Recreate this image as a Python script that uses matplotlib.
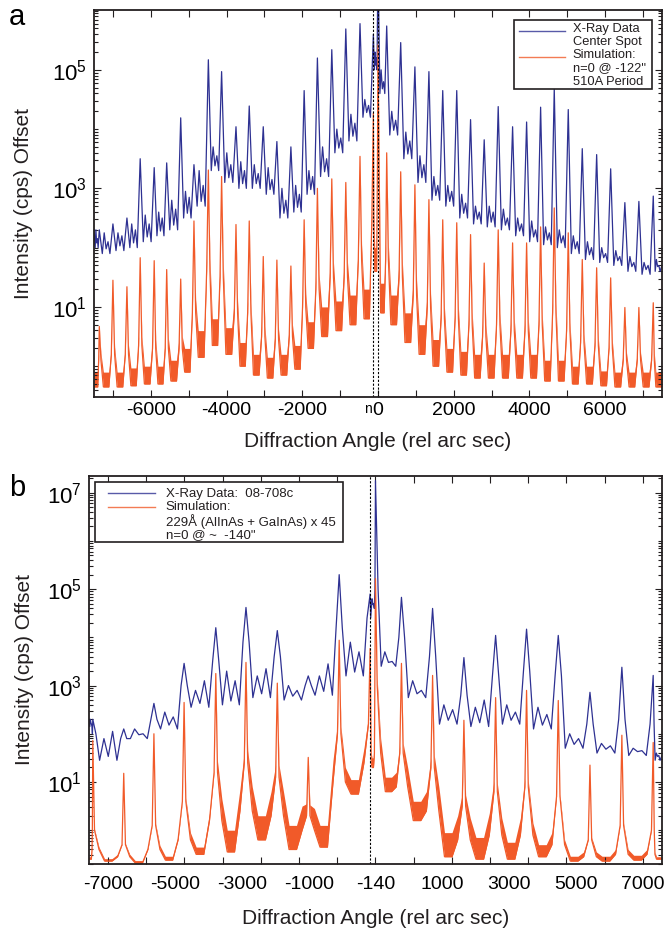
import matplotlib
matplotlib.use("Agg")
import matplotlib.pyplot as plt
import numpy as np
from matplotlib.patches import Rectangle
from matplotlib.ticker import FixedLocator, LogLocator, MultipleLocator, NullFormatter

plt.rcParams["font.family"] = ["Liberation Sans", "DejaVu Sans"]
plt.rcParams["mathtext.fontset"] = "custom"
plt.rcParams["mathtext.rm"] = "Liberation Sans"
plt.rcParams["mathtext.default"] = "regular"
plt.rcParams["axes.unicode_minus"] = False

BLUE = "#2e3192"
ORANGE = "#f15a29"
INK = "#231f20"
XLIM = (-7500, 7500)

# ---- panel a: 510 A period, n=0 at -122" (intensities stored as log10 cps) ----
A_PEAK_X = [-7360, -7000, -6630, -6280, -5910, -5580, -5210, -4860, -4480, -4130,
            -3750, -3400, -3030, -2670, -2300, -1950, -1600, -1220, -850, -475,
            -122, 0, 230, 600, 975, 1345, 1710, 2080, 2445, 2805,
            3175, 3555, 3925, 4295, 4655, 5025, 5395, 5775, 6145, 6520,
            6890, 7270]
A_SIM_PEAK = [0.67, 1.45, 1.34, 1.83, 1.78, 1.63, 1.47, 2.45, 3.31, 3.2,
              2.39, 2.45, 1.85, 1.79, 1.69, 2.47, 3.0, 3.16, 3.1, 3.54,
              4.27, 5.42, 3.6, 3.28, 3.06, 2.81, 2.47, 2.42, 2.22, 1.74,
              2.3, 2.08, 2.08, 2.35, 2.67, 2.25, 1.8, 1.66, 1.49, 0.99,
              0.99, 1.07]
A_SIM_FOOT = [0.1, 0.2, 0.2, 0.35, 0.3, 0.3, 0.3, 0.9, 1.6, 1.5,
              0.9, 0.9, 0.5, 0.45, 0.5, 1.0, 1.3, 1.5, 1.5, 1.8,
              2.4, 3.4, 1.8, 1.5, 1.2, 1.0, 0.8, 0.8, 0.7, 0.5,
              0.7, 0.6, 0.6, 0.7, 0.9, 0.6, 0.4, 0.35, 0.3, 0.1,
              0.1, 0.1]
# one value per gap between peaks (plot edges included)
A_SIM_FLOOR = [-0.35, -0.35, -0.35, -0.33, -0.3, -0.3, -0.25, -0.1, 0.15, 0.35,
               0.2, 0.0, -0.15, -0.2, -0.15, -0.05, 0.3, 0.5, 0.6, 0.7,
               0.8, 1.6, 0.9, 0.7, 0.4, 0.2, 0.0, -0.1, -0.15, -0.2,
               -0.2, -0.2, -0.2, -0.2, -0.25, -0.25, -0.3, -0.3, -0.33, -0.35,
               -0.35, -0.35, -0.35]
A_SIM_BAND = [0.25, 0.25, 0.25, 0.3, 0.3, 0.3, 0.35, 0.4, 0.45, 0.45,
              0.45, 0.4, 0.35, 0.35, 0.35, 0.4, 0.45, 0.5, 0.5, 0.5,
              0.5, 0.4, 0.5, 0.5, 0.5, 0.5, 0.45, 0.4, 0.4, 0.4,
              0.4, 0.4, 0.4, 0.4, 0.35, 0.35, 0.3, 0.3, 0.25, 0.25,
              0.25, 0.25, 0.25]
A_DATA_PEAK = [2.3, 2.4, 2.5, 3.5, 3.35, 3.43, 4.19, 3.4, 5.17, 4.97,
               4.04, 4.39, 4.04, 3.79, 3.7, 4.65, 5.2, 5.34, 5.69, 5.78,
               5.6, 6.8, 5.74, 5.46, 5.05, 4.97, 4.65, 4.65, 4.16, 3.82,
               4.38, 4.04, 4.12, 4.37, 4.69, 4.33, 3.67, 3.57, 3.33, 2.76,
               2.78, 2.87]
A_DATA_LO = [2.0, 1.9, 1.95, 2.0, 2.1, 2.2, 2.3, 2.5, 2.7, 3.3,
             3.1, 3.0, 3.0, 2.9, 2.5, 2.6, 2.9, 3.2, 3.6, 3.8,
             4.2, 5.0, 4.6, 3.9, 3.5, 3.1, 2.8, 2.7, 2.5, 2.4,
             2.35, 2.3, 2.2, 2.1, 2.05, 2.0, 1.9, 1.8, 1.75, 1.7,
             1.6, 1.55, 1.6]
A_DATA_BUMP = [2.3, 2.25, 2.25, 2.4, 2.55, 2.6, 2.8, 2.95, 3.3, 3.7,
               3.6, 3.45, 3.4, 3.35, 3.0, 3.05, 3.3, 3.7, 4.0, 4.25,
               4.5, 5.3, 5.0, 4.3, 3.95, 3.55, 3.2, 3.05, 2.9, 2.7,
               2.7, 2.65, 2.5, 2.45, 2.35, 2.3, 2.2, 2.1, 2.0, 1.95,
               1.85, 1.75, 1.8]
A_DATA_BUMP2 = [2.15, 2.1, 2.2, 2.3, 2.4, 2.5, 2.65, 2.85, 3.05, 3.55,
                3.4, 3.3, 3.25, 3.15, 2.8, 2.9, 3.2, 3.5, 3.85, 4.1,
                4.4, 5.2, 4.8, 4.15, 3.8, 3.4, 3.05, 2.95, 2.75, 2.6,
                2.6, 2.5, 2.4, 2.3, 2.25, 2.2, 2.1, 2.0, 1.9, 1.85,
                1.75, 1.7, 1.7]
A_MARKERS = [-122, 0]

# ---- panel b: 229 A (AlInAs + GaInAs) x 45, n=0 at ~-140" ----
B_PEAK_X = [-7400, -6590, -5800, -5010, -4180, -3390, -2570, -1760, -950, -140,
            0, 680, 1495, 2315, 3145, 3955, 4785, 5615, 6450, 7270]
B_SIM_PEAK = [1.86, 1.18, 2.0, 2.65, 3.25, 3.48, 3.05, 1.51, 3.94, 3.77,
              5.22, 3.46, 3.21, 2.28, 2.75, 2.9, 2.69, 1.35, 1.97, 1.82]
B_SIM_FOOT = [0.0, -0.3, 0.1, 0.6, 1.2, 1.4, 1.1, 0.3, 2.0, 2.2,
              3.0, 1.6, 1.3, 0.5, 0.8, 0.9, 0.7, -0.2, 0.1, 0.0]
B_SIM_SHOULDER = [-0.4, -0.55, -0.4, -0.2, 0.2, 0.4, 0.3, 0.0, 1.0, 1.4,
                  1.6, 0.9, 0.4, -0.2, -0.1, -0.1, -0.3, -0.55, -0.5, -0.5]
B_SIM_FLOOR = [-0.6, -0.64, -0.68, -0.62, -0.5, -0.45, -0.2, -0.4, -0.35, 0.75,
               1.3, 0.8, 0.2, -0.55, -0.6, -0.6, -0.55, -0.64, -0.64, -0.62,
               -0.6]
B_SIM_BAND = [0.05, 0.05, 0.05, 0.08, 0.15, 0.45, 0.5, 0.5, 0.45, 0.3,
              0.2, 0.3, 0.4, 0.5, 0.45, 0.35, 0.25, 0.1, 0.1, 0.1,
              0.05]
B_DATA_PEAK = [2.3, 2.1, 2.63, 3.46, 4.2, 4.62, 4.14, 3.2, 5.3, 4.9,
               7.25, 4.83, 4.6, 3.58, 4.04, 4.17, 4.04, 2.86, 3.38, 3.21]
B_DATA_SHOULDER = [2.0, 1.9, 2.3, 3.0, 3.5, 3.9, 3.6, 3.0, 4.2, 4.4,
                   5.0, 4.0, 3.6, 2.8, 3.2, 3.3, 3.2, 2.2, 2.3, 2.2]
B_DATA_LO = [2.15, 1.45, 1.9, 2.1, 2.55, 2.6, 2.75, 2.7, 2.8, 3.2,
             4.6, 3.4, 2.75, 2.2, 2.15, 2.2, 2.1, 1.7, 1.6, 1.55,
             1.45]
B_DATA_BUMP = [2.3, 1.9, 2.1, 2.45, 2.9, 3.3, 3.2, 3.0, 3.2, 3.9,
               4.8, 3.7, 3.1, 2.6, 2.55, 2.6, 2.55, 2.0, 1.8, 1.7,
               1.6]
B_DATA_BUMP2 = [2.2, 2.05, 2.0, 2.35, 3.1, 3.1, 3.35, 2.9, 3.45, 3.7,
                4.7, 3.5, 2.9, 2.5, 2.7, 2.45, 2.4, 1.9, 1.75, 1.65,
                1.55]
B_MARKERS = [-140]
B_XTICK_LABELS = ["-7000", "-5000", "-3000", "-1000", "-140",
                  "1000", "3000", "5000", "7000"]


def sim_vertices(peak_x, peak, foot, floor, band, shoulder=None):
    """Peaks as needles with a short skirt, sitting on a fringe band."""
    edges = [XLIM[0], *peak_x, XLIM[1]]
    pts = [(XLIM[0], floor[0], band[0]), (XLIM[1], floor[-1], band[-1])]
    for i in range(len(edges) - 1):
        a, b = edges[i], edges[i + 1]
        g = b - a
        if shoulder is None:
            for f in (0.3, 0.5, 0.7):
                pts.append((a + f * g, floor[i], band[i]))
        else:
            for f in (0.38, 0.5, 0.62):
                pts.append((a + f * g, floor[i], band[i]))
            if i > 0:
                pts.append((a + 0.2 * g, shoulder[i - 1], band[i]))
            if i < len(peak_x):
                pts.append((b - 0.2 * g, shoulder[i], band[i]))
    for k, p in enumerate(peak_x):
        gl = p - edges[k]
        gr = edges[k + 2] - p
        pts.append((p - min(45, 0.12 * gl), foot[k], 0.5 * band[k]))
        pts.append((p, peak[k], 0.0))
        pts.append((p + min(45, 0.12 * gr), foot[k], 0.5 * band[k + 1]))
    pts.sort()
    x, y, b = (np.array(v) for v in zip(*pts))
    return x, y, b


def data_vertices(peak_x, peak, lo, bump, bump2, shoulder=None):
    """Measured scan: peaks with a double wiggle of noise in every gap."""
    edges = [XLIM[0], *peak_x, XLIM[1]]
    pts = [(XLIM[0], bump[0]), (XLIM[1], bump2[-1])]
    for i in range(len(edges) - 1):
        a, b = edges[i], edges[i + 1]
        g = b - a
        pts += [(a + 0.22 * g, lo[i]), (a + 0.36 * g, bump[i]), (a + 0.5 * g, lo[i] + 0.08),
                (a + 0.64 * g, bump2[i]), (a + 0.78 * g, lo[i])]
    for k, p in enumerate(peak_x):
        pts.append((p, peak[k]))
        if shoulder is not None:
            gl = p - edges[k]
            gr = edges[k + 2] - p
            pts.append((p - 0.1 * gl, shoulder[k]))
            pts.append((p + 0.1 * gr, shoulder[k]))
    pts.sort()
    x, y = (np.array(v) for v in zip(*pts))
    return x, y


def style_axes(ax, ylim):
    ax.set_yscale("log")
    ax.set_xlim(*XLIM)
    ax.set_ylim(*ylim)
    ax.tick_params(which="both", direction="in", top=True, right=True,
                   width=0.8, color=INK)
    ax.tick_params(axis="x", labelsize=14)
    ax.tick_params(axis="y", labelsize=16, pad=5)
    ax.tick_params(which="major", length=5)
    ax.tick_params(axis="y", which="minor", length=3)
    ax.tick_params(axis="x", which="minor", length=5)
    ax.yaxis.set_minor_locator(LogLocator(base=10, subs=np.arange(1, 10), numticks=30))
    ax.yaxis.set_minor_formatter(NullFormatter())
    for s in ax.spines.values():
        s.set_linewidth(1.3)
        s.set_color(INK)
    ax.set_xlabel("Diffraction Angle (rel arc sec)", fontsize=15, color=INK)
    ax.set_ylabel("Intensity (cps) Offset", fontsize=15, color=INK)


def draw_legend(ax, box, lines, text, text_xy, spacing, size):
    x0, y0, x1, y1 = box
    ax.add_patch(Rectangle((x0, y0), x1 - x0, y1 - y0, transform=ax.transAxes,
                           facecolor="white", edgecolor=INK, lw=1.2, zorder=5))
    for (lx0, lx1, ly, color) in lines:
        ax.plot([lx0, lx1], [ly, ly], color=color, lw=1.0, alpha=0.8,
                transform=ax.transAxes, zorder=6)
    ax.text(*text_xy, text, transform=ax.transAxes, fontsize=size, linespacing=spacing,
            va="center", ha="left", color=INK, zorder=6)


def main():
    fig = plt.figure(figsize=(6.69, 9.33), dpi=100)
    ax_a = fig.add_axes([0.1405, 0.5745, 0.849, 0.4148])
    ax_b = fig.add_axes([0.1330, 0.0740, 0.8565, 0.4160])

    # panel a
    x, y = data_vertices(A_PEAK_X, A_DATA_PEAK, A_DATA_LO, A_DATA_BUMP, A_DATA_BUMP2)
    ax_a.plot(x, 10 ** y, color=BLUE, lw=0.9)
    x, y, b = sim_vertices(A_PEAK_X, A_SIM_PEAK, A_SIM_FOOT, A_SIM_FLOOR, A_SIM_BAND)
    ax_a.fill_between(x, 10 ** y, 10 ** (y + b), color=ORANGE, lw=0)
    ax_a.plot(x, 10 ** y, color=ORANGE, lw=0.9)
    for m in A_MARKERS:
        ax_a.axvline(m, color="black", lw=0.8, ls=(0, (2, 1.5)))
    style_axes(ax_a, (10 ** -0.52, 10 ** 6.01))
    ax_a.xaxis.set_major_locator(MultipleLocator(2000))
    ax_a.xaxis.set_minor_locator(MultipleLocator(1000))
    ax_a.set_yticks([1e1, 1e3, 1e5], ["$10^{1}$", "$10^{3}$", "$10^{5}$"])
    ax_a.xaxis.set_label_coords(0.5, -0.09)
    ax_a.yaxis.set_label_coords(-0.107, 0.5)
    ax_a.text(-260, -0.012, "n", transform=ax_a.get_xaxis_transform(),
              fontsize=10, ha="center", va="top")
    draw_legend(ax_a, (0.739, 0.796, 0.982, 0.974),
                [(0.748, 0.829, 0.946, BLUE), (0.748, 0.829, 0.879, ORANGE)],
                'X-Ray Data\nCenter Spot\nSimulation:\nn=0 @ -122"\n510A Period',
                (0.843, 0.8825), 1.12, 9.3)

    # panel b
    x, y = data_vertices(B_PEAK_X, B_DATA_PEAK, B_DATA_LO, B_DATA_BUMP, B_DATA_BUMP2,
                         B_DATA_SHOULDER)
    ax_b.plot(x, 10 ** y, color=BLUE, lw=0.9)
    x, y, b = sim_vertices(B_PEAK_X, B_SIM_PEAK, B_SIM_FOOT, B_SIM_FLOOR, B_SIM_BAND,
                           B_SIM_SHOULDER)
    ax_b.fill_between(x, 10 ** y, 10 ** (y + b), color=ORANGE, lw=0)
    ax_b.plot(x, 10 ** y, color=ORANGE, lw=0.9)
    for m in B_MARKERS:
        ax_b.axvline(m, color="black", lw=0.8, ls=(0, (2, 1.5)))
    style_axes(ax_b, (10 ** -0.70, 10 ** 7.35))
    ax_b.xaxis.remove_overlapping_locs = False
    ax_b.xaxis.set_major_locator(FixedLocator(np.linspace(-7000, 7000, len(B_XTICK_LABELS))))
    ax_b.set_xticklabels(B_XTICK_LABELS)
    ax_b.xaxis.set_minor_locator(MultipleLocator(1000))
    ax_b.tick_params(axis="x", which="major", length=0, pad=9)
    ax_b.set_yticks([1e1, 1e3, 1e5, 1e7],
                    ["$10^{1}$", "$10^{3}$", "$10^{5}$", "$10^{7}$"])
    ax_b.xaxis.set_label_coords(0.5, -0.115)
    ax_b.yaxis.set_label_coords(-0.0955, 0.5)
    draw_legend(ax_b, (0.0105, 0.829, 0.443, 0.985),
                [(0.033, 0.115, 0.955, BLUE), (0.033, 0.115, 0.920, ORANGE)],
                'X-Ray Data:  08-708c\nSimulation:\n229Å (AlInAs + GaInAs) x 45\n'
                'n=0 @ ~  -140"', (0.134, 0.900), 1.08, 9.5)

    fig.text(17 / 669, 1 - 17 / 933, "a", fontsize=21, ha="center", va="center")
    fig.text(17 / 669, 1 - 488 / 933, "b", fontsize=21, ha="center", va="center")

    fig.savefig("out.png", dpi=100)
    plt.close(fig)


if __name__ == "__main__":
    main()
